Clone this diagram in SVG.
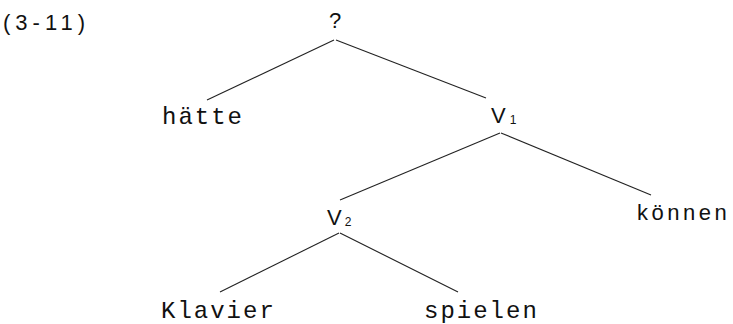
<svg xmlns="http://www.w3.org/2000/svg" width="733" height="324" viewBox="0 0 733 324">
<style>
.mono{font-family:"Liberation Mono","Courier New",monospace;font-size:24px;letter-spacing:2px;fill:#111}
.sans{font-family:"Liberation Sans",Arial,sans-serif;font-size:22px;fill:#111}
.sub{font-family:"Liberation Sans",Arial,sans-serif;font-size:12px;fill:#111}
.edge{stroke:#222;stroke-width:1.1;fill:none}
</style>
<rect width="733" height="324" fill="#fff"/>
<text class="sans" x="3" y="30" font-size="22" letter-spacing="5">(3-11)</text>
<g id="edges">
<line class="edge" x1="334" y1="40" x2="207" y2="100"/>
<line class="edge" x1="336" y1="40" x2="486" y2="98"/>
<line class="edge" x1="500" y1="133" x2="340" y2="200"/>
<line class="edge" x1="501" y1="133" x2="651" y2="195"/>
<line class="edge" x1="339" y1="233" x2="220" y2="292"/>
<line class="edge" x1="340" y1="233" x2="458" y2="292"/>
</g>
<g id="root"><text class="sans" x="329" y="28">?</text></g>
<g id="hatte"><text class="mono" x="162" y="124">hätte</text></g>
<g id="v1"><text class="sans" x="491" y="123">V<tspan class="sub" dx="4" dy="1">1</tspan></text></g>
<g id="konnen"><text class="sans" x="637" y="220" font-size="20" letter-spacing="3.5">können</text></g>
<g id="v2"><text class="sans" x="327" y="225">V<tspan class="sub" dx="3" dy="1">2</tspan></text></g>
<g id="klavier"><text class="mono" x="161" y="318">Klavier</text></g>
<g id="spielen"><text class="mono" x="424" y="318">spielen</text></g>
</svg>
